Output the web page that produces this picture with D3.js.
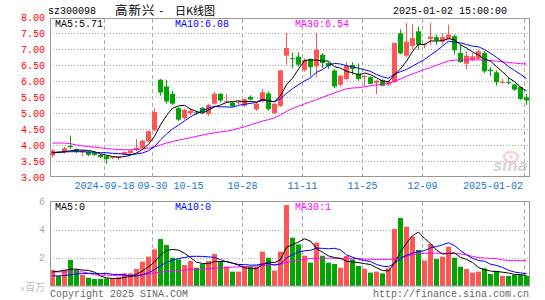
<!DOCTYPE html>
<html><head><meta charset="utf-8">
<script src="https://cdn.jsdelivr.net/npm/d3@7"></script>
<style>html,body{margin:0;padding:0;background:#fff;}svg{display:block;}</style>
</head><body><svg id="c" width="545" height="300"></svg>
<script>
const dates = ["2024-09-03","2024-09-04","2024-09-05","2024-09-06","2024-09-09","2024-09-10","2024-09-11","2024-09-12","2024-09-13","2024-09-18",
"2024-09-19","2024-09-20","2024-09-23","2024-09-24","2024-09-25","2024-09-26","2024-09-27","2024-09-30","2024-10-08","2024-10-09",
"2024-10-10","2024-10-11","2024-10-14","2024-10-15","2024-10-16","2024-10-17","2024-10-18","2024-10-21","2024-10-22","2024-10-23",
"2024-10-24","2024-10-25","2024-10-28","2024-10-29","2024-10-30","2024-10-31","2024-11-01","2024-11-04","2024-11-05","2024-11-06",
"2024-11-07","2024-11-08","2024-11-11","2024-11-12","2024-11-13","2024-11-14","2024-11-15","2024-11-18","2024-11-19","2024-11-20",
"2024-11-21","2024-11-22","2024-11-25","2024-11-26","2024-11-27","2024-11-28","2024-11-29","2024-12-02","2024-12-03","2024-12-04",
"2024-12-05","2024-12-06","2024-12-09","2024-12-10","2024-12-11","2024-12-12","2024-12-13","2024-12-16","2024-12-17","2024-12-18",
"2024-12-19","2024-12-20","2024-12-23","2024-12-24","2024-12-25","2024-12-26","2024-12-27","2024-12-30","2024-12-31","2025-01-02"];

const open  = [3.68,3.80,3.79,3.98,3.88,3.78,3.80,3.76,3.70,3.66, 3.60,3.60,3.71,3.76,3.85,3.92,4.12,4.47,6.05,5.84,
               5.61,5.16,4.85,5.00,5.03,5.17,4.98,5.30,5.61,5.35, 5.34,5.32,5.24,5.51,5.12,5.37,5.62,5.01,5.23,6.80,
               6.72,6.77,6.35,6.69,6.47,6.83,6.57,6.34,5.89,6.07, 6.51,6.25,6.13,6.13,5.95,6.03,5.90,5.98,7.50,6.80,
               7.10,7.56,7.12,7.32,7.38,7.24,7.32,7.41,6.89,6.55, 6.67,6.70,6.89,6.36,6.28,5.96,5.97,5.90,5.82,5.50];
const high  = [3.88,3.82,3.96,4.30,3.90,3.86,3.82,3.80,3.72,3.68, 3.66,3.66,3.80,3.87,4.20,4.18,4.46,5.16,6.07,6.05,
               5.70,5.19,5.13,5.15,5.08,5.20,5.30,5.67,5.63,5.61, 5.36,5.40,5.46,5.56,5.35,5.76,5.68,5.30,6.34,7.51,
               6.90,6.91,6.72,6.72,7.51,6.88,6.60,6.38,6.20,6.61, 6.60,6.56,6.20,6.16,6.05,6.06,6.02,7.20,7.62,7.82,
               7.78,7.71,7.20,7.82,7.46,7.50,7.77,7.46,7.14,6.94, 6.88,6.99,6.94,6.44,6.34,6.07,6.10,5.92,5.84,5.60];
const low   = [3.62,3.75,3.74,3.88,3.76,3.66,3.66,3.67,3.60,3.42, 3.56,3.54,3.69,3.70,3.82,3.90,4.10,4.44,5.55,5.30,
               5.26,4.76,4.80,4.95,4.95,5.00,4.92,5.27,5.35,5.32, 5.20,5.28,5.20,5.40,5.08,5.35,5.08,4.98,5.20,6.52,
               6.40,6.46,6.30,6.15,6.13,6.42,6.39,5.78,5.84,6.02, 6.20,6.02,5.84,5.90,5.60,5.84,5.86,5.95,6.85,6.75,
               6.99,6.99,7.03,7.14,7.14,7.14,7.32,6.83,6.58,6.37, 6.63,6.68,6.26,6.16,5.86,5.92,5.90,5.70,5.42,5.26];
const close = [3.84,3.77,3.91,3.94,3.80,3.84,3.70,3.70,3.63,3.57, 3.63,3.64,3.79,3.84,3.92,4.14,4.44,5.04,5.65,5.37,
               5.30,4.80,5.11,5.08,5.00,5.03,5.26,5.61,5.40,5.38, 5.22,5.36,5.44,5.43,5.30,5.66,5.13,5.30,6.34,7.04,
               6.70,6.52,6.67,6.44,6.99,6.57,6.47,5.84,6.17,6.49, 6.38,6.07,6.17,5.92,6.02,5.86,6.00,7.20,6.87,7.24,
               7.35,7.14,7.15,7.40,7.28,7.38,7.46,6.97,6.60,6.80, 6.78,6.94,6.31,6.32,5.97,5.98,5.95,5.74,5.45,5.40];
// volume in millions of shares (x百万)
const volume = [1.14,0.71,1.14,1.85,1.18,0.78,0.59,0.50,0.50,0.54, 0.50,0.62,0.90,0.90,1.21,1.73,2.08,2.60,3.34,2.91,
                2.01,1.89,1.49,1.78,1.30,1.56,1.78,2.27,1.73,1.37, 1.02,1.02,1.37,1.37,1.37,2.44,2.01,1.09,2.44,5.75,
                3.43,2.96,2.15,1.66,3.08,2.15,1.66,1.56,1.30,2.13, 1.89,1.42,1.23,0.95,1.02,0.90,1.25,4.05,4.83,4.21,
                3.50,2.56,1.80,2.98,1.92,2.08,2.79,2.01,1.37,1.21, 0.95,1.02,1.25,0.85,1.07,0.71,0.71,0.78,0.78,0.71];

const ma5  = [3.76,3.78,3.80,3.83,3.85,3.85,3.84,3.80,3.73,3.69, 3.65,3.63,3.65,3.69,3.76,3.87,4.03,4.28,4.64,4.93,
              5.16,5.23,5.25,5.13,5.06,5.00,5.10,5.20,5.26,5.34, 5.37,5.39,5.36,5.37,5.35,5.44,5.39,5.36,5.55,5.89,
              6.10,6.38,6.65,6.67,6.66,6.64,6.63,6.46,6.41,6.31, 6.27,6.19,6.26,6.21,6.11,6.01,5.99,6.20,6.39,6.63,
              6.93,7.16,7.15,7.26,7.26,7.27,7.33,7.30,7.14,7.04, 6.92,6.82,6.69,6.63,6.46,6.30,6.11,5.99,5.82,5.70];
const ma10 = [3.78,3.78,3.79,3.80,3.80,3.80,3.79,3.78,3.77,3.77, 3.75,3.74,3.72,3.71,3.73,3.76,3.83,3.96,4.17,4.35,
              4.51,4.63,4.76,4.89,4.99,5.08,5.16,5.22,5.20,5.20, 5.19,5.25,5.28,5.31,5.34,5.41,5.39,5.36,5.46,5.62,
              5.77,5.89,6.01,6.11,6.28,6.37,6.50,6.56,6.54,6.49, 6.45,6.41,6.36,6.31,6.21,6.14,6.09,6.23,6.30,6.37,
              6.47,6.58,6.68,6.82,6.95,7.10,7.25,7.23,7.20,7.15, 7.10,7.08,6.99,6.88,6.75,6.61,6.46,6.34,6.22,6.08];
const ma30 = [4.07,4.07,4.07,4.05,4.01,3.98,3.96,3.94,3.92,3.90, 3.88,3.87,3.86,3.86,3.87,3.89,3.91,3.95,4.01,4.07,
              4.12,4.16,4.20,4.24,4.28,4.32,4.36,4.39,4.42,4.44, 4.48,4.53,4.58,4.64,4.70,4.76,4.80,4.86,4.95,5.06,
              5.15,5.22,5.29,5.36,5.43,5.50,5.57,5.64,5.70,5.77, 5.79,5.80,5.83,5.86,5.89,5.91,5.93,6.00,6.07,6.16,
              6.23,6.30,6.37,6.43,6.50,6.57,6.64,6.66,6.67,6.67, 6.67,6.67,6.66,6.65,6.63,6.61,6.59,6.57,6.55,6.54];
const volMa5  = [1.00,1.05,1.12,1.18,1.20,1.13,1.11,0.98,0.71,0.58, 0.53,0.53,0.61,0.69,0.83,1.07,1.36,1.70,2.19,2.53,
                 2.59,2.55,2.33,2.02,1.69,1.60,1.58,1.74,1.73,1.74, 1.63,1.48,1.30,1.23,1.23,1.51,1.71,1.66,1.87,2.75,
                 2.94,3.13,3.35,3.19,2.66,2.40,2.14,2.02,1.95,1.76, 1.71,1.66,1.59,1.52,1.30,1.10,1.07,1.63,2.41,3.05,
                 3.57,3.83,3.38,3.01,2.55,2.27,2.31,2.36,2.03,1.89, 1.67,1.31,1.16,1.06,1.03,0.98,0.92,0.82,0.81,0.74];
const volMa10 = [0.72,0.72,0.74,0.80,0.85,0.88,0.90,0.90,0.89,0.89, 0.83,0.82,0.80,0.70,0.70,0.80,0.95,1.16,1.44,1.68,
                 1.83,1.96,2.02,2.10,2.11,2.10,2.07,2.03,1.87,1.72, 1.62,1.53,1.52,1.48,1.49,1.57,1.60,1.48,1.55,1.99,
                 2.23,2.42,2.50,2.53,2.70,2.67,2.64,2.68,2.57,2.21, 2.05,1.90,1.81,1.74,1.53,1.41,1.37,1.61,1.97,2.18,
                 2.34,2.45,2.51,2.71,2.80,2.92,3.07,2.87,2.52,2.22, 1.97,1.81,1.76,1.55,1.46,1.32,1.12,0.99,0.93,0.88];
const volMa30 = [1.00,1.00,1.00,1.00,1.00,1.00,0.90,0.80,0.78,0.77, 0.76,0.75,0.75,0.75,0.76,0.80,0.86,0.92,0.98,1.04,
                 1.08,1.10,1.12,1.15,1.17,1.20,1.23,1.26,1.29,1.32, 1.34,1.36,1.38,1.40,1.42,1.45,1.48,1.52,1.58,1.68,
                 1.76,1.83,1.90,1.95,1.97,1.98,1.98,1.97,1.97,1.97, 1.96,1.94,1.91,1.90,1.89,1.89,1.89,1.92,2.00,2.10,
                 2.22,2.30,2.32,2.33,2.33,2.33,2.32,2.30,2.28,2.22, 2.10,2.02,1.98,1.97,1.95,1.85,1.82,1.80,1.80,1.80];

const priceTicks = [3.0,3.5,4.0,4.5,5.0,5.5,6.0,6.5,7.0,7.5,8.0];
const volTicks = [2,4,6];
const xLabelDates = ["2024-09-18","2024-09-30","2024-10-15","2024-10-28","2024-11-11","2024-11-25","2024-12-09","2025-01-02"];
const xLabelTexts = ["2024-09-18","09-30","10-15","10-28","11-11","11-25","12-09","2025-01-02"];
const gridDates = ["2024-09-18","2024-09-30","2024-10-28","2024-11-11","2024-11-25","2024-12-09","2025-01-02"];
const legendPrice = [["MA5:5.71","#000"],["MA10:6.08","#0000ff"],["MA30:6.54","#ff00ff"]];
const legendVol = [["MA5:0","#000"],["MA10:0","#0000ff"],["MA30:1","#ff00ff"]];

const RED = "#ff5555", GREEN = "#00a600";
const MONO = "'Liberation Mono','DejaVu Sans Mono',monospace";
const CJK = "'Noto Sans CJK SC',sans-serif";
const svg = d3.select("#c");

const L = 50, R = 529;
const x = d3.scaleBand().domain(dates).range([49, 529]).padding(0);
const y = d3.scaleLinear().domain([3, 8]).range([177.3, 17.3]);
const yv = d3.scaleLinear().domain([0, 6]).range([286, 201.5]);
const cx = d => x(d) + 3.5;

// header
svg.append("text").attr("x", 48).attr("y", 14).attr("font-family", MONO).attr("font-size", 10)
  .attr("fill", "#000").text("sz300098");
svg.append("text").attr("x", 115).attr("y", 15).attr("font-family", CJK).attr("font-size", 12.5)
  .attr("letter-spacing", 1).attr("fill", "#000").text("高新兴");
svg.append("text").attr("x", 158).attr("y", 14).attr("font-family", MONO).attr("font-size", 11)
  .attr("fill", "#000").text("-");
svg.append("text").attr("x", 175).attr("y", 15).attr("font-family", CJK).attr("font-size", 11)
  .attr("fill", "#000").text("日K线图");
svg.append("text").attr("x", 507).attr("y", 14).attr("text-anchor", "end").attr("font-family", MONO).attr("font-size", 10)
  .attr("fill", "#000").text("2025-01-02 15:00:00");

// gridlines - price
const gP = svg.append("g");
gP.selectAll("line.h").data(priceTicks.filter(v => v > 3 && v < 8)).join("line")
  .attr("x1", L).attr("x2", R).attr("y1", d => Math.round(y(d)) + 0.5).attr("y2", d => Math.round(y(d)) + 0.5)
  .attr("stroke", "#aaa").attr("stroke-dasharray", "1,2");
gP.selectAll("line.v").data(gridDates).join("line")
  .attr("x1", d => x(d) + 1.5).attr("x2", d => x(d) + 1.5).attr("y1", 19).attr("y2", 176)
  .attr("stroke", "#aaa").attr("stroke-dasharray", "4,3");
// gridlines - volume
const gV = svg.append("g");
gV.selectAll("line.h").data(volTicks.filter(v => v < 6)).join("line")
  .attr("x1", L).attr("x2", R).attr("y1", d => Math.round(yv(d)) + 0.5).attr("y2", d => Math.round(yv(d)) + 0.5)
  .attr("stroke", "#aaa").attr("stroke-dasharray", "1,2");
gV.selectAll("line.v").data(gridDates).join("line")
  .attr("x1", d => x(d) + 1.5).attr("x2", d => x(d) + 1.5).attr("y1", 202).attr("y2", 286)
  .attr("stroke", "#aaa").attr("stroke-dasharray", "4,3");

// watermark
const wm = svg.append("g").attr("opacity", 0.55);
wm.append("ellipse").attr("cx", 511).attr("cy", 157).attr("rx", 7).attr("ry", 5).attr("fill", "none").attr("stroke", "#f3b0b0").attr("stroke-width", 2.5);
wm.append("circle").attr("cx", 511).attr("cy", 157).attr("r", 2).attr("fill", "#f3b0b0");
wm.append("text").attr("x", 528).attr("y", 171).attr("text-anchor", "end").attr("font-family", "'DejaVu Sans',sans-serif")
  .attr("font-style", "italic").attr("font-weight", "bold").attr("font-size", 15).attr("fill", "#bbb").text("sina");

// candles
const idx = d3.range(dates.length);
const col = i => close[i] >= open[i] ? RED : GREEN;
const gc = svg.append("g");
gc.selectAll("line.w").data(idx).join("line")
  .attr("x1", i => cx(dates[i])).attr("x2", i => cx(dates[i]))
  .attr("y1", i => y(high[i])).attr("y2", i => y(low[i]))
  .attr("stroke", col).attr("stroke-width", 1);
gc.selectAll("rect").data(idx).join("rect")
  .attr("x", i => x(dates[i]) + 1).attr("width", 5)
  .attr("y", i => y(Math.max(open[i], close[i])))
  .attr("height", i => Math.max(1, Math.abs(y(open[i]) - y(close[i]))))
  .attr("fill", col);

// volume bars
svg.append("g").selectAll("rect").data(idx).join("rect")
  .attr("x", i => x(dates[i]) + 1).attr("width", 5)
  .attr("y", i => yv(volume[i])).attr("height", i => yv(0) - yv(volume[i]))
  .attr("fill", col);

// MA lines
function drawLine(vals, yScale, color) {
  const ln = d3.line().x((v, i) => cx(dates[i])).y(v => yScale(v));
  svg.append("path").attr("d", ln(vals)).attr("fill", "none").attr("stroke", color).attr("stroke-width", 1);
}
drawLine(ma30, y, "#ff00ff");
drawLine(ma10, y, "#0000ff");
drawLine(ma5, y, "#000000");
drawLine(volMa30, yv, "#ff00ff");
drawLine(volMa10, yv, "#0000ff");
drawLine(volMa5, yv, "#000000");

// frames
svg.append("rect").attr("x", 50.5).attr("y", 18.5).attr("width", 479).attr("height", 158)
  .attr("fill", "none").attr("stroke", "#999");
svg.append("rect").attr("x", 50.5).attr("y", 201.5).attr("width", 479).attr("height", 84.5)
  .attr("fill", "none").attr("stroke", "#999");

// legends
const legX = [55, 175, 295];
legendPrice.forEach((d, k) => svg.append("text").attr("x", legX[k]).attr("y", 27).attr("font-family", MONO)
  .attr("font-size", 10).attr("fill", d[1]).text(d[0]));
legendVol.forEach((d, k) => svg.append("text").attr("x", legX[k]).attr("y", 210).attr("font-family", MONO)
  .attr("font-size", 10).attr("fill", d[1]).text(d[0]));

// price axis labels
svg.append("g").selectAll("text").data(priceTicks).join("text")
  .attr("x", 45).attr("y", d => y(d) + 3.5).attr("text-anchor", "end")
  .attr("font-family", MONO).attr("font-size", 10).attr("fill", "#ff0000")
  .text(d => d.toFixed(2));
// volume axis labels
svg.append("g").selectAll("text").data(volTicks).join("text")
  .attr("x", 45).attr("y", d => yv(d) + 3.5).attr("text-anchor", "end")
  .attr("font-family", MONO).attr("font-size", 10).attr("fill", "#aaa")
  .text(d => d);
const unit = svg.append("text").attr("x", 45).attr("y", 291).attr("text-anchor", "end").attr("fill", "#bbb");
unit.append("tspan").attr("font-family", MONO).attr("font-size", 8).text("x");
unit.append("tspan").attr("font-family", CJK).attr("font-size", 10).text("百万");

// x labels
svg.append("g").selectAll("text").data(xLabelDates).join("text")
  .attr("x", (d, k) => k === xLabelDates.length - 1 ? 523 : x(d) + 1.5)
  .attr("y", 189).attr("text-anchor", (d, k) => k === xLabelDates.length - 1 ? "end" : "middle")
  .attr("font-family", MONO).attr("font-size", 10).attr("fill", "#1478c8")
  .text((d, k) => xLabelTexts[k]);

// footer
svg.append("text").attr("x", 50).attr("y", 297).attr("font-family", MONO).attr("font-size", 10)
  .attr("fill", "#666").text("Copyright 2025 SINA.COM");
svg.append("text").attr("x", 529).attr("y", 297).attr("text-anchor", "end").attr("font-family", MONO).attr("font-size", 10)
  .attr("fill", "#666").text("http://finance.sina.com.cn");
</script></body></html>
